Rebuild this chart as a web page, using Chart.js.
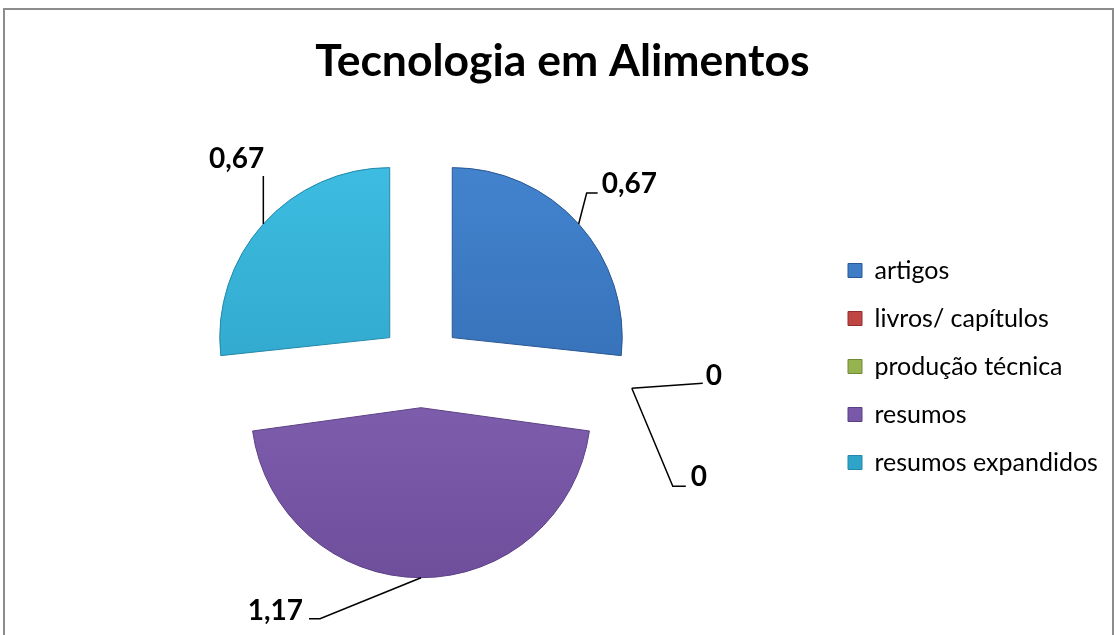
<!DOCTYPE html>
<html>
<head>
<meta charset="utf-8">
<title>Tecnologia em Alimentos</title>
<script src="https://cdn.jsdelivr.net/npm/chart.js@4.4.1/dist/chart.umd.min.js"></script>
<style>
  html, body { margin: 0; padding: 0; background: #fff; overflow: hidden; }
  #frame { position: absolute; left: 3px; top: 8px; width: 1107px; height: 700px; border: 2px solid #8c8c8c; }
  #wrap { position: absolute; left: 0; top: 0; width: 1114px; height: 635px; }
</style>
</head>
<body>
<div id="frame"></div>
<div id="wrap"><canvas id="chart"></canvas></div>
<script>
const categories = ["artigos", "livros/ capítulos", "produção técnica", "resumos", "resumos expandidos"];
const values = [0.67, 0, 0, 1.17, 0.67];

const colorsTop = ["#4586d2", "#d0504d", "#a9c95e", "#8e70be", "#3fbfe4"];
const colorsBottom = ["#2c62a6", "#a33532", "#7f9c3f", "#6a4997", "#2898bd"];
const borderColors = ["#2a5893", "#8f2f2c", "#6f8a36", "#5c4085", "#2388a9"];

const RADIUS = 170;
const SLICE_OFFSET = 168; // chart.js moves the slice by offset/4
const LEGEND_FONT = 25;
const LEGEND_PAD = 23;
const LEGEND_BOX = 14;

// leader line bends and label spot, relative to the slice edge
const leaders = [
  { path: [[8, -31], [19, -31]], text: [23, -31], align: "left" },
  { path: [[71, -5]], text: [74, -3], align: "left" },
  { path: [[41, 98], [54, 98]], text: [59, 98], align: "left" },
  { path: [[-101, 41], [-112, 41]], text: [-118, 42], align: "right" },
  { path: [[0, -48]], text: [1, -56], align: "right" }
];

Chart.defaults.font.family = "Lato";
Chart.defaults.color = "#000";

// widest legend label, to put the legend where the original has it
const mctx = document.createElement("canvas").getContext("2d");
mctx.font = LEGEND_FONT + "px Lato";
const maxText = Math.max(...categories.map(c => mctx.measureText(c).width));
const colW = LEGEND_BOX + LEGEND_FONT / 2 + maxText;
const padRight = 256 - colW;

function fmt(v) {
  return String(v).replace(".", ",");
}

function sliceColor(c) {
  const chart = c.chart;
  const area = chart.chartArea;
  const i = c.dataIndex;
  if (!area) return colorsTop[i];
  const g = chart.ctx.createLinearGradient(0, area.top + 60, 0, area.bottom - 40);
  g.addColorStop(0, colorsTop[i]);
  g.addColorStop(1, colorsBottom[i]);
  return g;
}

// keep every slice at the same radius (chart.js grows small slices with offset)
const radiusFix = {
  id: "radiusFix",
  afterDatasetUpdate(chart) {
    chart.getDatasetMeta(0).data.forEach(arc => {
      const circ = arc.endAngle - arc.startAngle;
      arc.outerRadius = RADIUS - (SLICE_OFFSET / 4) * (1 - Math.sin(Math.min(Math.PI, circ)));
    });
  }
};

// value labels with leader lines
const sliceLabels = {
  id: "sliceLabels",
  afterDatasetsDraw(chart) {
    const ctx = chart.ctx;
    const arcs = chart.getDatasetMeta(0).data;
    ctx.save();
    ctx.font = "bold 28px Lato";
    ctx.fillStyle = "#000";
    ctx.strokeStyle = "#000";
    ctx.lineWidth = 1.5;
    arcs.forEach((arc, i) => {
      const mid = (arc.startAngle + arc.endAngle) / 2;
      const d = RADIUS + SLICE_OFFSET / 4;
      const ex = arc.x + Math.cos(mid) * d;
      const ey = arc.y + Math.sin(mid) * d;
      const p = leaders[i];
      ctx.beginPath();
      ctx.moveTo(ex, ey);
      p.path.forEach(([dx, dy]) => ctx.lineTo(ex + dx, ey + dy));
      ctx.stroke();
      ctx.textAlign = p.align;
      ctx.textBaseline = "alphabetic";
      ctx.fillText(fmt(values[i]), ex + p.text[0], ey + p.text[1]);
    });
    ctx.restore();
  }
};

new Chart(document.getElementById("chart"), {
  type: "pie",
  data: {
    labels: categories,
    datasets: [{
      data: values,
      backgroundColor: sliceColor,
      borderColor: borderColors,
      borderWidth: 1,
      offset: SLICE_OFFSET,
      hoverOffset: SLICE_OFFSET
    }]
  },
  options: {
    responsive: true,
    maintainAspectRatio: false,
    animation: false,
    radius: RADIUS,
    layout: { padding: { left: 17, right: padRight, top: 0, bottom: 0 } },
    plugins: {
      title: {
        display: true,
        text: "Tecnologia em Alimentos",
        font: { size: 44.5, weight: "bold" },
        color: "#000",
        padding: { top: 34.5, bottom: 8.5 }
      },
      legend: {
        position: "right",
        // empty legend title only pushes the entries down
        title: { display: true, text: "", font: { size: 10 }, padding: { top: 86, bottom: 0 } },
        labels: {
          boxWidth: LEGEND_BOX,
          boxHeight: LEGEND_BOX,
          padding: LEGEND_PAD,
          font: { size: LEGEND_FONT },
          color: "#000"
        }
      },
      tooltip: { enabled: false }
    }
  },
  plugins: [radiusFix, sliceLabels]
});
</script>
</body>
</html>
